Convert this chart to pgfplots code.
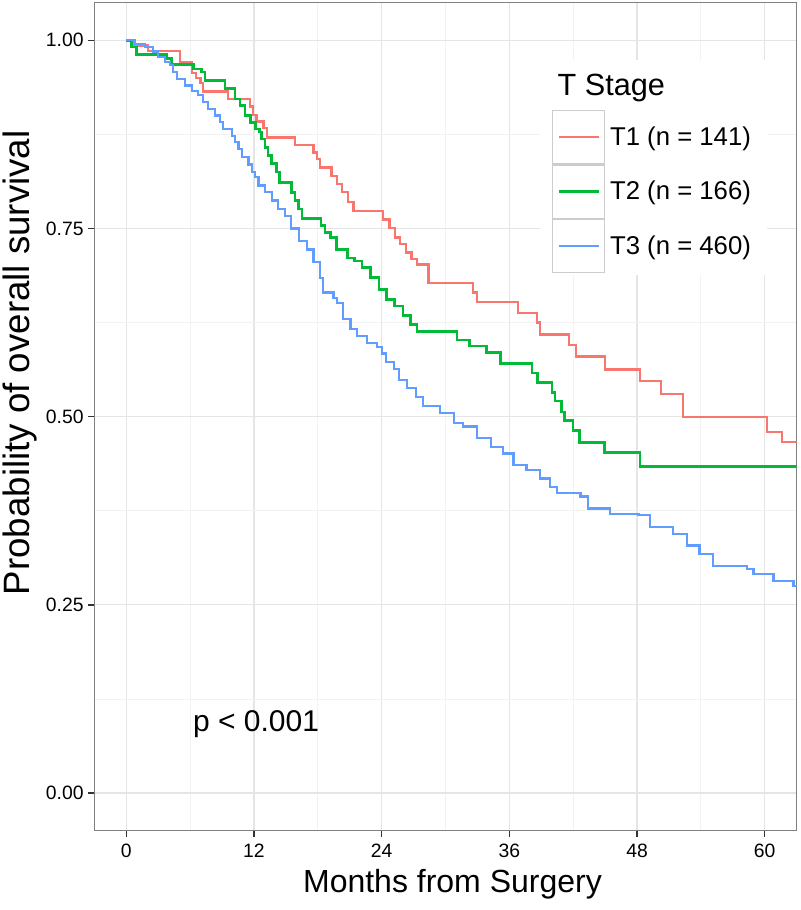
\documentclass[border=0pt]{standalone}
\usepackage{fontspec}
\setmainfont{Liberation Sans}
\usepackage{pgfplots}
\pgfplotsset{compat=1.18}
\definecolor{cT1}{HTML}{F8766D}
\definecolor{cT2}{HTML}{00BA38}
\definecolor{cT3}{HTML}{619CFF}
\begin{document}
\begin{tikzpicture}
\path[use as bounding box] (-70.7pt,-59.5pt) rectangle (529.3pt,623pt);
\begin{axis}[
  at={(0pt,0pt)}, anchor=south west,
  width=526.8pt, height=621pt, scale only axis,
  xmin=-3, xmax=63, ymin=-0.05, ymax=1.05,
  xtick={0,12,24,36,48,60}, minor xtick={6,18,30,42,54},
  ytick={0,0.25,0.5,0.75,1}, minor ytick={0.125,0.375,0.625,0.875},
  yticklabels={0.00,0.25,0.50,0.75,1.00},
  grid=both,
  major grid style={draw=black!10, line width=0.9pt},
  minor grid style={draw=black!5, line width=0.6pt},
  axis line style={draw=black!50, line width=1pt},
  tick align=outside, tick pos=left,
  major tick length=4.5pt, minor tick length=0pt,
  every tick/.style={draw=black!80, line width=1pt},
  /pgf/number format/assume math mode=true,
  tick label style={font=\fontsize{14.5}{16}\selectfont, text=black},
  xticklabel style={yshift=-2pt},
  xlabel={Months from Surgery}, ylabel={Probability of overall survival},
  xlabel style={font=\fontsize{24}{28}\selectfont, at={(axis description cs:0.51,-0.0644)}, anchor=center},
  ylabel style={font=\fontsize{27.5}{30}\selectfont, at={(axis description cs:-0.1057,0.565)}, anchor=center},
  legend style={at={(0.6512,0.8704)}, anchor=north west, draw=none, fill=none,
    inner sep=0pt, row sep=0pt, column sep=3.5pt, nodes={inner sep=0pt},
    font=\fontsize{19.3}{23}\selectfont},
  legend cell align=left,
  legend image code/.code={
    \draw[draw=black!20, line width=0.9pt, fill=white, solid] (0pt,-19.9pt) rectangle (39.2pt,19.9pt);
    \draw[#1] (4.7pt,0pt) -- (35pt,0pt);
  },
]
\addplot[cT1, line width=1.7pt, const plot] coordinates {
(0,1.0) (0.76,0.993) (2.08,0.986) (5.05,0.971) (6.15,0.957) (6.59,0.950) (6.99,0.943)
(7.24,0.932) (9.59,0.922) (11.64,0.912) (11.94,0.901) (12.24,0.892) (12.89,0.883)
(13.2,0.871) (15.86,0.861) (17.6,0.851) (17.9,0.842) (18.19,0.831) (19.28,0.820)
(19.78,0.809) (20.27,0.798) (20.87,0.785) (21.36,0.773) (24.14,0.762) (24.73,0.751)
(25.23,0.738) (25.73,0.729) (26.32,0.718) (26.82,0.709) (27.31,0.702) (28.4,0.678)
(32.62,0.665) (32.95,0.652) (36.83,0.638) (38.62,0.625) (38.91,0.609) (41.59,0.595)
(42.28,0.580) (44.96,0.5625) (48.28,0.547) (50.22,0.5305) (52.3,0.500) (60.19,0.480)
(61.62,0.466) (63,0.466)
};
\addlegendentry{T1 (n = 141)}
\addplot[cT2, line width=2pt, const plot] coordinates {
(0,1.0) (0.51,0.991) (0.99,0.981) (3.8,0.976) (4.27,0.968) (6.31,0.962) (7.09,0.958)
(7.4,0.947) (9.29,0.936) (10.22,0.922) (10.7,0.913) (11.15,0.900) (11.65,0.891)
(12.14,0.882) (12.54,0.878) (12.74,0.869) (13.04,0.858) (13.33,0.847) (13.67,0.836)
(14.13,0.825) (14.42,0.811) (15.51,0.798) (15.86,0.787) (16.21,0.776) (16.51,0.763)
(18.29,0.754) (18.69,0.745) (19.18,0.738) (19.78,0.722) (20.77,0.711) (21.46,0.707)
(22.16,0.698) (22.95,0.685) (23.74,0.669) (24.44,0.656) (25.23,0.647) (26.02,0.634)
(26.72,0.622) (27.31,0.613) (31.08,0.602) (32.27,0.594) (33.86,0.585) (35.15,0.571)
(38.12,0.558) (38.62,0.545) (40.0,0.532) (40.3,0.521) (40.9,0.506) (41.19,0.495)
(41.99,0.482) (42.58,0.466) (44.96,0.452) (48.28,0.434) (63,0.434)
};
\addlegendentry{T2 (n = 166)}
\addplot[cT3, line width=1.7pt, const plot] coordinates {
(0,1.0) (0.83,0.995) (1.77,0.991) (2.55,0.985) (3.02,0.978) (3.65,0.971) (4.11,0.967)
(4.43,0.958) (4.75,0.949) (5.52,0.940) (6.15,0.933) (6.78,0.927) (7.24,0.918)
(7.72,0.909) (8.35,0.900) (8.81,0.891) (9.13,0.882) (9.91,0.873) (10.22,0.865)
(10.56,0.856) (10.85,0.845) (11.48,0.835) (11.8,0.825) (12.1,0.818) (12.44,0.807)
(13.04,0.798) (13.67,0.787) (14.29,0.776) (14.92,0.767) (15.51,0.750) (16.21,0.733)
(16.96,0.722) (17.6,0.705) (18.19,0.684) (18.49,0.665) (19.48,0.658) (19.78,0.651)
(20.37,0.630) (21.07,0.616) (21.66,0.607) (22.65,0.598) (23.55,0.593) (24.04,0.584)
(24.44,0.573) (25.13,0.563) (25.63,0.549) (26.42,0.538) (27.21,0.526) (27.91,0.514)
(29.49,0.505) (30.78,0.492) (31.68,0.487) (32.96,0.472) (34.25,0.460) (35.44,0.451)
(36.39,0.436) (37.62,0.429) (38.91,0.418) (39.81,0.407) (40.5,0.399) (42.68,0.394)
(43.42,0.378) (45.46,0.371) (48.13,0.369) (49.23,0.353) (51.41,0.344) (52.7,0.329)
(53.88,0.318) (55.17,0.302) (58.35,0.298) (58.94,0.291) (60.83,0.282) (62.7,0.275)
(63,0.275)
};
\addlegendentry{T3 (n = 460)}
\fill[white] (rel axis cs:0.6345,0.6711) rectangle (rel axis cs:0.9577,0.9308);
\node[anchor=base west, font=\fontsize{23}{27}\selectfont] at (rel axis cs:0.653,0.8873) {T Stage};
\node[anchor=base west, font=\fontsize{22.5}{27}\selectfont] at (axis cs:5.84,0.082) {p < 0.001};
\end{axis}
\end{tikzpicture}
\end{document}
